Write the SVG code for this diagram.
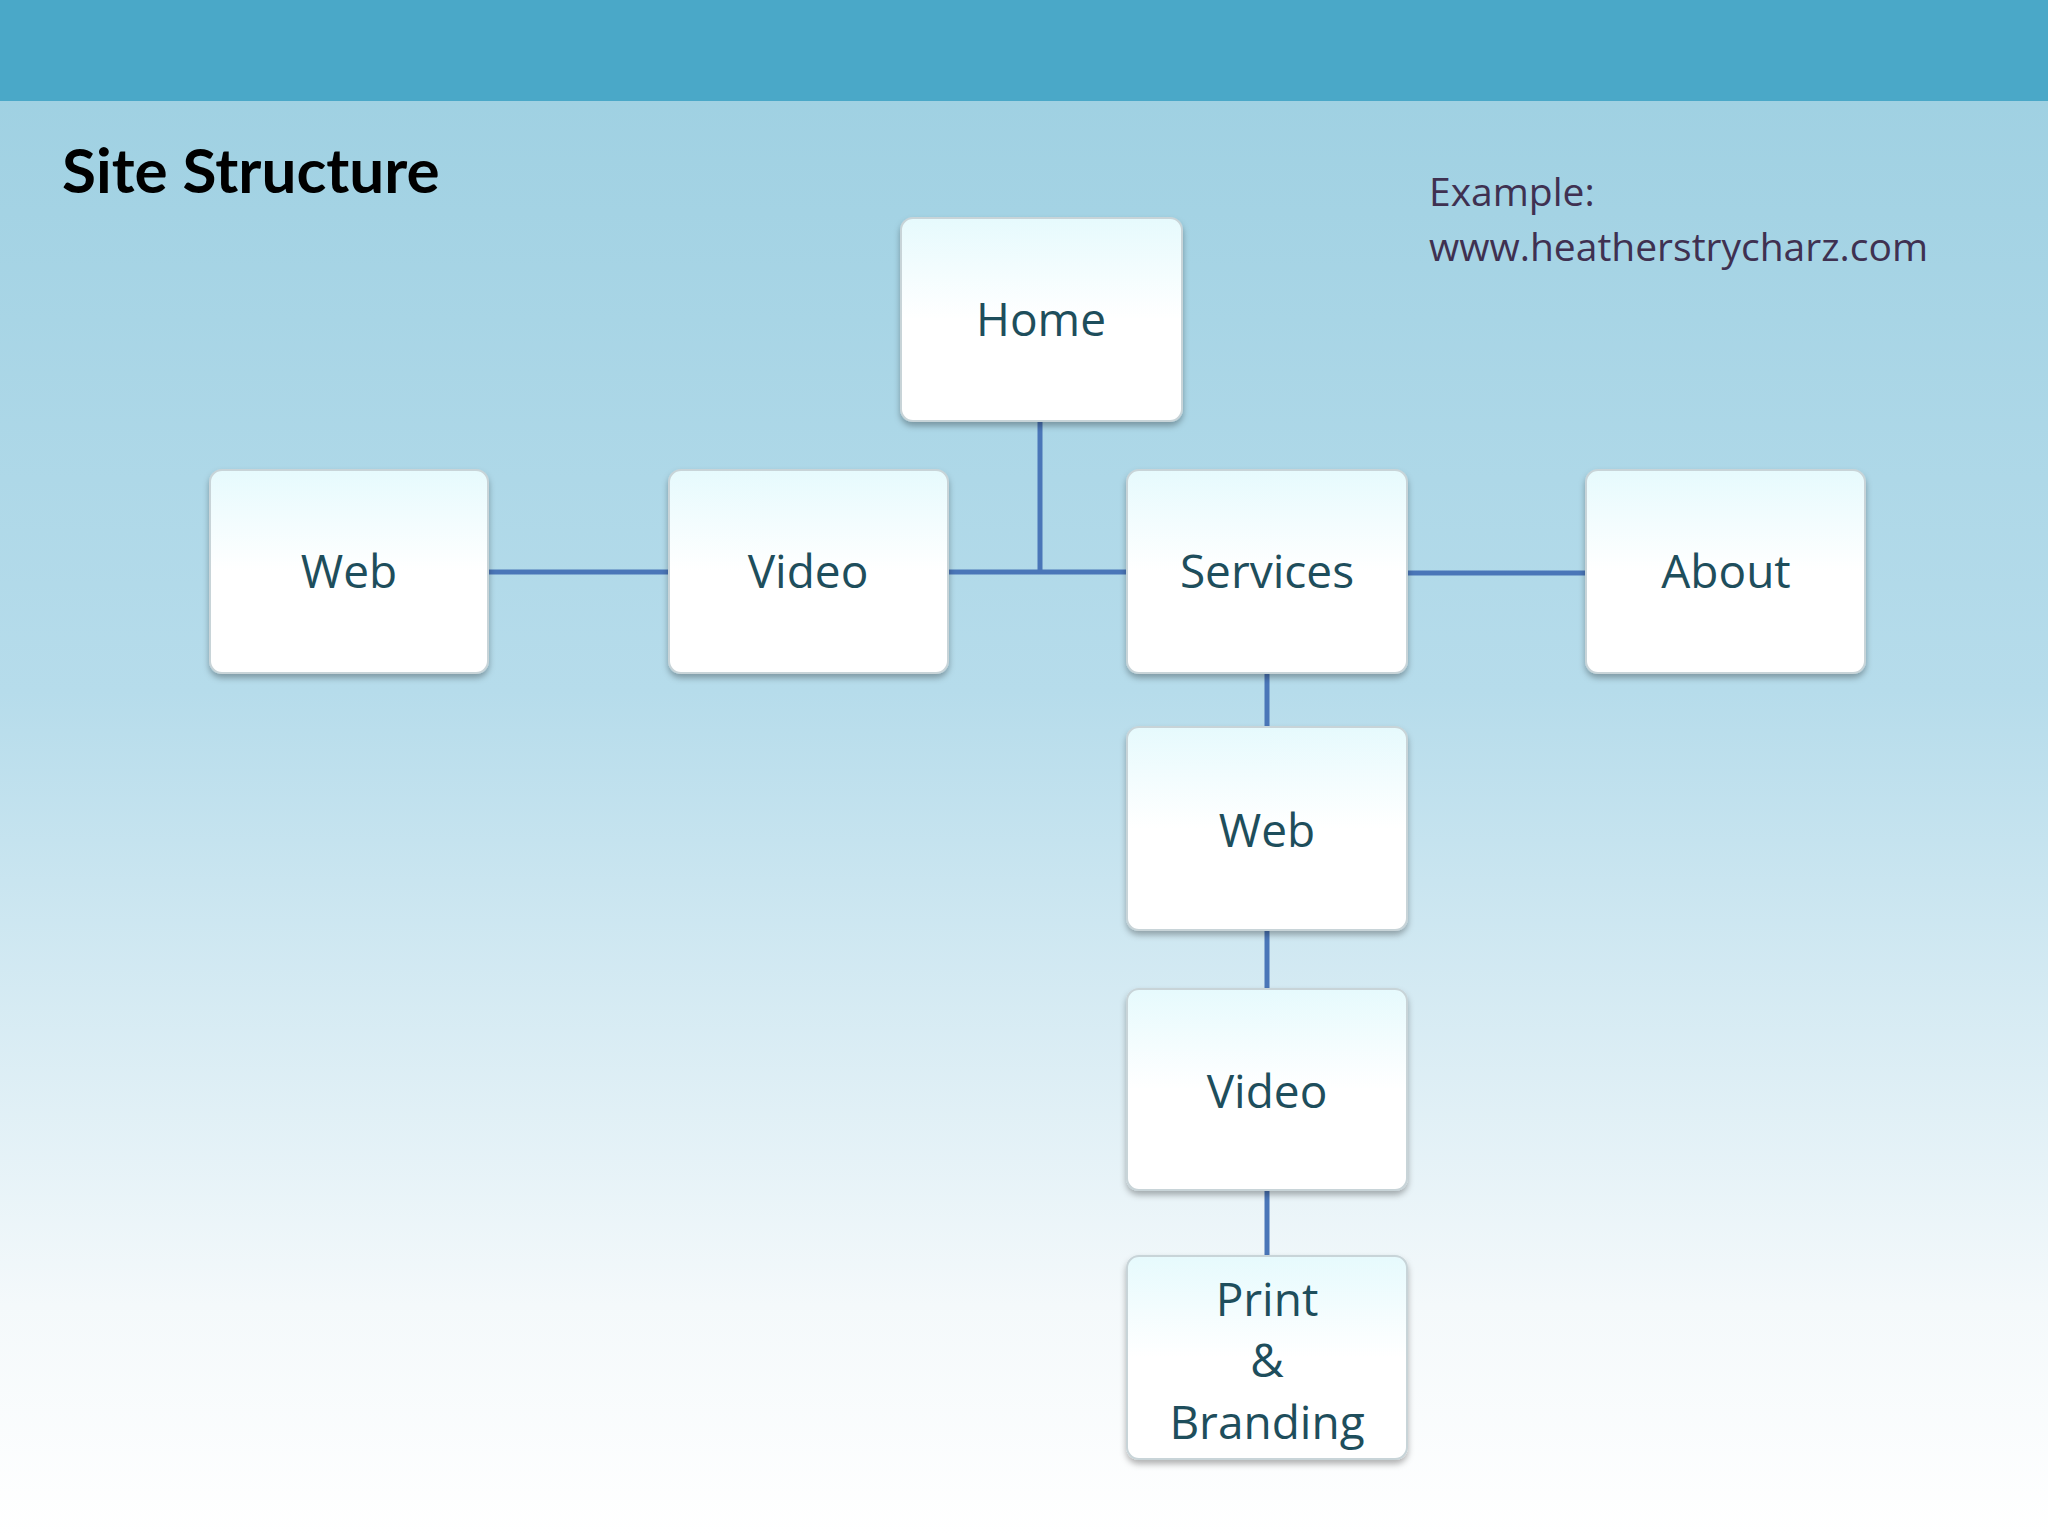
<svg xmlns="http://www.w3.org/2000/svg" width="2048" height="1536" viewBox="0 0 2048 1536">
<defs>
<linearGradient id="bg" x1="0" y1="0" x2="0" y2="1">
<stop offset="0" stop-color="#9ccfe1"/><stop offset="0.45" stop-color="#b6dceb"/><stop offset="0.85" stop-color="#f4f9fb"/><stop offset="1" stop-color="#ffffff"/>
</linearGradient>
<linearGradient id="box" x1="0" y1="0" x2="0" y2="1">
<stop offset="0" stop-color="#e6fafd"/><stop offset="0.5" stop-color="#ffffff"/><stop offset="1" stop-color="#ffffff"/>
</linearGradient>
<filter id="sh" x="-10%" y="-10%" width="120%" height="130%">
<feDropShadow dx="0" dy="4" stdDeviation="3" flood-color="#000" flood-opacity="0.3"/>
</filter>
</defs>
<style>
.n rect{fill:url(#box);stroke:#c8d4d8;stroke-width:2;filter:url(#sh)}
.n text{font-family:"Open Sans","Liberation Sans",sans-serif;font-size:46px;fill:#1e4e5c;text-anchor:middle}
.c{stroke:#4a76b8;stroke-width:5;fill:none}
</style>
<rect width="2048" height="1536" fill="url(#bg)"/>
<rect width="2048" height="101" fill="#4aa8c8"/>
<text x="62" y="193" font-family="Lato,'Liberation Sans',sans-serif" font-weight="bold" font-size="62" fill="#000">Site Structure</text>
<text font-family="'Open Sans','Liberation Sans',sans-serif" font-size="39" fill="#3f3151"><tspan x="1429" y="206">Example:</tspan><tspan x="1429" y="261">www.heatherstrycharz.com</tspan></text>
<g id="connectors">
<path class="c" d="M1040 421V572M488 572H669M948 572H1127M1407 573H1586M1267 673V727M1267 930V989M1267 1190V1256"/>
</g>
<g id="home" class="n"><rect x="901" y="218" width="281" height="203" rx="12"/><text x="1041" y="336">Home</text></g>
<g id="web" class="n"><rect x="210" y="470" width="278" height="203" rx="12"/><text x="349" y="588">Web</text></g>
<g id="video" class="n"><rect x="669" y="470" width="279" height="203" rx="12"/><text x="808" y="588">Video</text></g>
<g id="services" class="n"><rect x="1127" y="470" width="280" height="203" rx="12"/><text x="1267" y="588">Services</text></g>
<g id="about" class="n"><rect x="1586" y="470" width="279" height="203" rx="12"/><text x="1726" y="588">About</text></g>
<g id="web2" class="n"><rect x="1127" y="727" width="280" height="203" rx="12"/><text x="1267" y="847">Web</text></g>
<g id="video2" class="n"><rect x="1127" y="989" width="280" height="201" rx="12"/><text x="1267" y="1108">Video</text></g>
<g id="print" class="n"><rect x="1127" y="1256" width="280" height="203" rx="12"/><text x="1267" y="1316">Print</text><text x="1267" y="1377">&amp;</text><text x="1267" y="1439">Branding</text></g>
</svg>
